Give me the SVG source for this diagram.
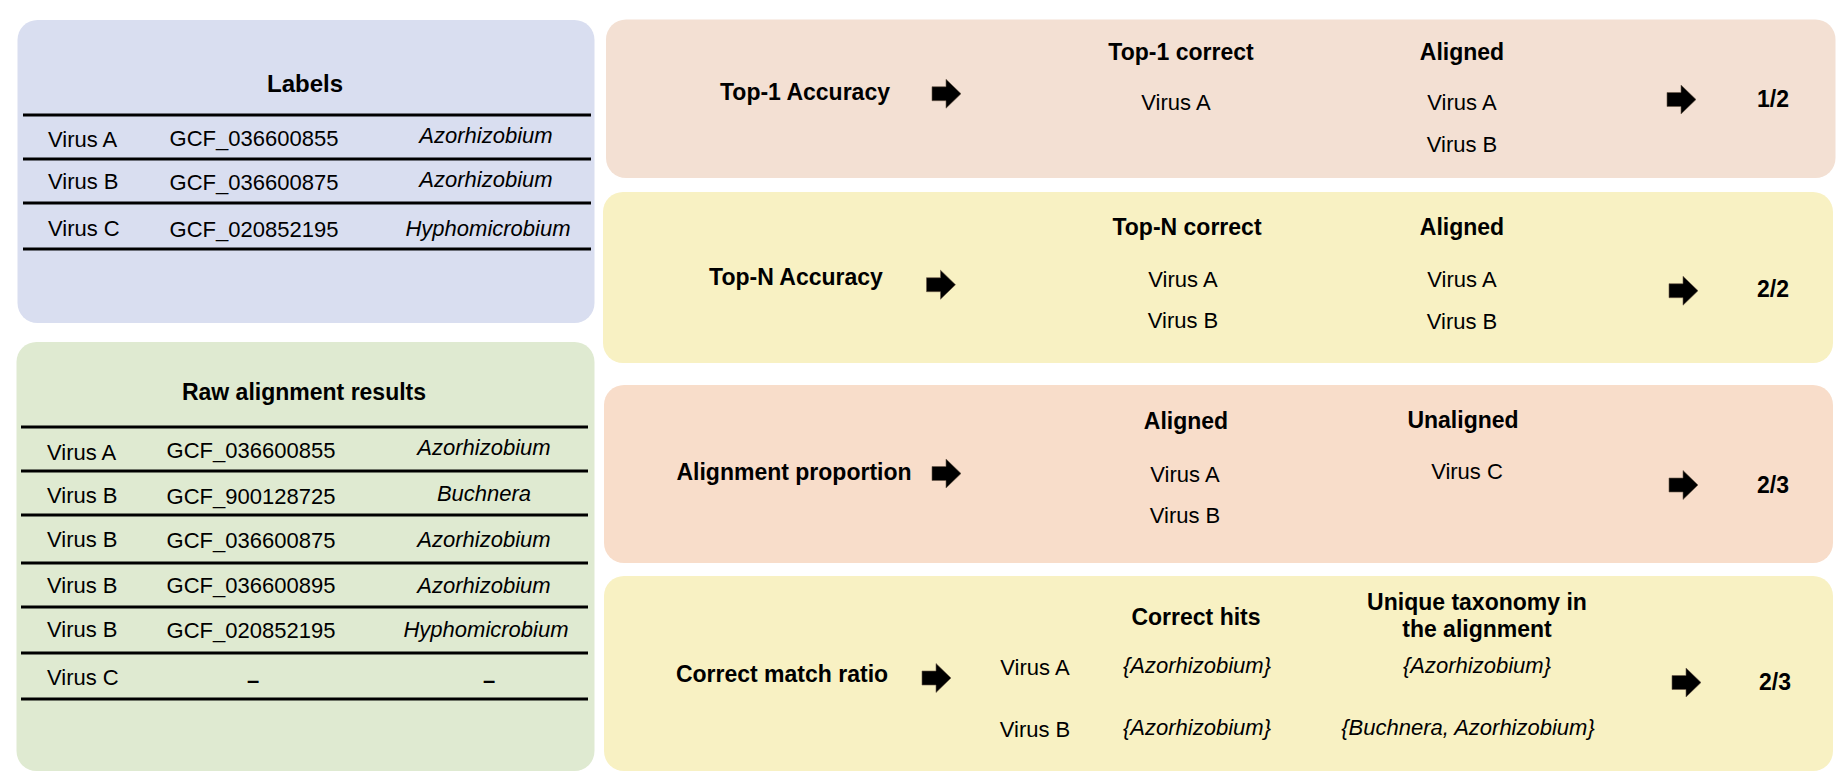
<svg xmlns="http://www.w3.org/2000/svg" xmlns:xlink="http://www.w3.org/1999/xlink" width="1845" height="783" viewBox="0 0 1845 783">
  <style>
    text { font-family: "Liberation Sans", Arial, sans-serif; font-size: 22px; fill: #000; }
    .b { font-weight: bold; font-size: 23px; }
    .title { font-weight: bold; font-size: 24px; }
    .i { font-style: italic; }
    .m { text-anchor: middle; }
    .rule { stroke: #000; stroke-width: 3; }
    .blue { fill: #D9DEF0; }
    .green { fill: #DFEAD1; }
    .peach { fill: #F3E0D3; }
    .peach2 { fill: #F8DDCA; }
    .yellow { fill: #F8F1C3; }
  </style>
  <defs>
    <!-- block arrow, origin at the left end of its mid-line -->
    <path id="blockArrow" d="M0,-7 H14 V-14.5 L29,0 L14,14.5 V7 H0 Z" fill="#000" stroke="#6b5a4a" stroke-width="0.6"/>
  </defs>

  <rect width="1845" height="783" fill="#fff"/>

  <!-- Labels table -->
  <g id="labels">
    <rect class="blue" x="17.5" y="20" width="577" height="303" rx="20"/>
    <text class="title m" x="305" y="92">Labels</text>
    <line class="rule" x1="23" y1="115" x2="591" y2="115"/>
    <line class="rule" x1="23" y1="159" x2="591" y2="159"/>
    <line class="rule" x1="23" y1="203" x2="591" y2="203"/>
    <line class="rule" x1="23" y1="249" x2="591" y2="249"/>
    <text x="48" y="147">Virus A</text>
    <text class="m" x="254" y="146">GCF_036600855</text>
    <text class="m i" x="486" y="143">Azorhizobium</text>
    <text x="48" y="189">Virus B</text>
    <text class="m" x="254" y="190">GCF_036600875</text>
    <text class="m i" x="486" y="187">Azorhizobium</text>
    <text x="48" y="236">Virus C</text>
    <text class="m" x="254" y="237">GCF_020852195</text>
    <text class="m i" x="488" y="236">Hyphomicrobium</text>
  </g>

  <!-- Raw alignment results table -->
  <g id="raw-alignment">
    <rect class="green" x="16.5" y="342" width="578" height="429" rx="20"/>
    <text class="b m" x="304" y="400">Raw alignment results</text>
    <line class="rule" x1="21" y1="427" x2="588" y2="427"/>
    <line class="rule" x1="21" y1="471" x2="588" y2="471"/>
    <line class="rule" x1="21" y1="515" x2="588" y2="515"/>
    <line class="rule" x1="21" y1="563" x2="588" y2="563"/>
    <line class="rule" x1="21" y1="607" x2="588" y2="607"/>
    <line class="rule" x1="21" y1="653" x2="588" y2="653"/>
    <line class="rule" x1="21" y1="699" x2="588" y2="699"/>
    <text x="47" y="460">Virus A</text>
    <text class="m" x="251" y="458">GCF_036600855</text>
    <text class="m i" x="484" y="455">Azorhizobium</text>
    <text x="47" y="503">Virus B</text>
    <text class="m" x="251" y="504">GCF_900128725</text>
    <text class="m i" x="484" y="501">Buchnera</text>
    <text x="47" y="547">Virus B</text>
    <text class="m" x="251" y="548">GCF_036600875</text>
    <text class="m i" x="484" y="547">Azorhizobium</text>
    <text x="47" y="593">Virus B</text>
    <text class="m" x="251" y="593">GCF_036600895</text>
    <text class="m i" x="484" y="593">Azorhizobium</text>
    <text x="47" y="637">Virus B</text>
    <text class="m" x="251" y="638">GCF_020852195</text>
    <text class="m i" x="486" y="637">Hyphomicrobium</text>
    <text x="47" y="685">Virus C</text>
    <text class="m" x="253" y="688" font-weight="bold">–</text>
    <text class="m" x="489" y="688" font-weight="bold">–</text>
  </g>

  <!-- Top-1 accuracy -->
  <g id="top1-accuracy">
    <rect class="peach" x="606" y="19.5" width="1229.5" height="158.5" rx="20"/>
    <text class="b m" x="805" y="100">Top-1 Accuracy</text>
    <text class="b m" x="1181" y="60">Top-1 correct</text>
    <text class="b m" x="1462" y="60">Aligned</text>
    <text class="m" x="1176" y="110">Virus A</text>
    <text class="m" x="1462" y="110">Virus A</text>
    <text class="m" x="1462" y="152">Virus B</text>
    <text class="b m" x="1773" y="107">1/2</text>
  </g>

  <!-- Top-N accuracy -->
  <g id="topn-accuracy">
    <rect class="yellow" x="603" y="192" width="1230" height="171" rx="20"/>
    <text class="b m" x="796" y="285">Top-N Accuracy</text>
    <text class="b m" x="1187" y="235">Top-N correct</text>
    <text class="b m" x="1462" y="235">Aligned</text>
    <text class="m" x="1183" y="287">Virus A</text>
    <text class="m" x="1183" y="328">Virus B</text>
    <text class="m" x="1462" y="287">Virus A</text>
    <text class="m" x="1462" y="329">Virus B</text>
    <text class="b m" x="1773" y="297">2/2</text>
  </g>

  <!-- Alignment proportion -->
  <g id="alignment-proportion">
    <rect class="peach2" x="604" y="385" width="1229" height="178" rx="20"/>
    <text class="b m" x="794" y="480">Alignment proportion</text>
    <text class="b m" x="1186" y="429">Aligned</text>
    <text class="b m" x="1463" y="428">Unaligned</text>
    <text class="m" x="1185" y="482">Virus A</text>
    <text class="m" x="1185" y="523">Virus B</text>
    <text class="m" x="1467" y="479">Virus C</text>
    <text class="b m" x="1773" y="493">2/3</text>
  </g>

  <!-- Correct match ratio -->
  <g id="correct-match-ratio">
    <rect class="yellow" x="604" y="576" width="1229" height="195" rx="20"/>
    <text class="b m" x="782" y="682">Correct match ratio</text>
    <text class="b m" x="1196" y="625">Correct hits</text>
    <text class="b m" x="1477" y="610">Unique taxonomy in</text>
    <text class="b m" x="1477" y="637">the alignment</text>
    <text class="m" x="1035" y="675">Virus A</text>
    <text class="m" x="1035" y="737">Virus B</text>
    <text class="m i" x="1197" y="673">{Azorhizobium}</text>
    <text class="m i" x="1197" y="735">{Azorhizobium}</text>
    <text class="m i" x="1477" y="673">{Azorhizobium}</text>
    <text class="m i" x="1468" y="735">{Buchnera, Azorhizobium}</text>
    <text class="b m" x="1775" y="690">2/3</text>
  </g>

  <!-- flow arrows -->
  <g id="connectors">
    <use xlink:href="#blockArrow" x="932" y="93.7"/>
    <use xlink:href="#blockArrow" x="1667" y="99.5"/>
    <use xlink:href="#blockArrow" x="926.5" y="284.7"/>
    <use xlink:href="#blockArrow" x="1669" y="290.7"/>
    <use xlink:href="#blockArrow" x="932" y="473.5"/>
    <use xlink:href="#blockArrow" x="1669" y="485"/>
    <use xlink:href="#blockArrow" x="922" y="678"/>
    <use xlink:href="#blockArrow" x="1672" y="682.5"/>
  </g>
</svg>
